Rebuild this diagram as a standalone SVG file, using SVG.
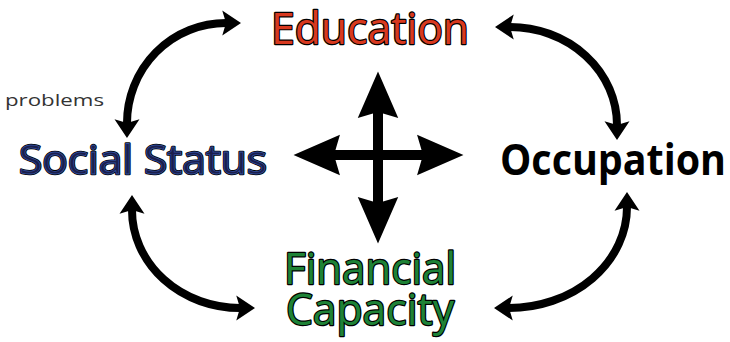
<svg xmlns="http://www.w3.org/2000/svg" width="730" height="342" viewBox="0 0 730 342">
  <style>
    .label { font-family: "Open Sans", "Noto Sans", "Liberation Sans", sans-serif; text-anchor: middle; }
    .outlined { stroke: #000; stroke-width: 2.4; stroke-linejoin: round; paint-order: stroke; }
    .arc { fill: none; stroke: #000; stroke-width: 8; }
    .shaft { fill: none; stroke: #000; stroke-width: 10; }
  </style>
  <defs>
    <marker id="headSmall" markerUnits="userSpaceOnUse" markerWidth="30" markerHeight="30" viewBox="-4 -12 20 24" refX="0" refY="0" orient="auto-start-reverse" overflow="visible">
      <path d="M-3,-10 L12,0 L-3,10 L0,0 Z" fill="#000"/>
    </marker>
    <marker id="headLarge" markerUnits="userSpaceOnUse" markerWidth="50" markerHeight="50" viewBox="-6 -18 42 36" refX="0" refY="0" orient="auto-start-reverse" overflow="visible">
      <path d="M-5,-17 L34,0 L-5,17 L0,0 Z" fill="#000"/>
    </marker>
  </defs>
  <rect width="730" height="342" fill="#fff"/>

  <g id="connectors">
    <!-- curved two-way arrows around the ring -->
    <path class="arc" d="M127,123 A99 100 0 0 1 226,23" marker-start="url(#headSmall)" marker-end="url(#headSmall)"/>
    <path class="arc" d="M510,27 A107 98 0 0 1 617,125" marker-start="url(#headSmall)" marker-end="url(#headSmall)"/>
    <path class="arc" d="M132,210 A108 98 0 0 0 240,308" marker-start="url(#headSmall)" marker-end="url(#headSmall)"/>
    <path class="arc" d="M627,207 A118 101 0 0 1 509,308" marker-start="url(#headSmall)" marker-end="url(#headSmall)"/>
    <!-- central four-way cross -->
    <line class="shaft" x1="378" y1="112" x2="378" y2="203" marker-start="url(#headLarge)" marker-end="url(#headLarge)"/>
    <line class="shaft" x1="334" y1="155" x2="423" y2="155" marker-start="url(#headLarge)" marker-end="url(#headLarge)"/>
  </g>

  <g id="education">
    <text class="label outlined" x="370" y="44" font-size="43" fill="#d8391f" textLength="198" lengthAdjust="spacingAndGlyphs">Education</text>
  </g>

  <g id="social-status">
    <text class="label outlined" x="143" y="174" font-size="40" fill="#1b1f4c" textLength="248" lengthAdjust="spacingAndGlyphs">Social Status</text>
    <text class="label" x="143" y="174" font-size="40" fill="#1b1f4c" stroke="#2f4c9c" stroke-width="0.8" textLength="248" lengthAdjust="spacingAndGlyphs">Social Status</text>
  </g>

  <g id="occupation">
    <text class="label" x="613" y="175" font-size="43" font-weight="bold" fill="#000" textLength="226" lengthAdjust="spacingAndGlyphs">Occupation</text>
  </g>

  <g id="financial-capacity">
    <text class="label outlined" x="370" y="284" font-size="43" fill="#1e8236" textLength="172" lengthAdjust="spacingAndGlyphs">Financial</text>
    <text class="label outlined" x="370" y="325" font-size="43" fill="#1e8236" textLength="168" lengthAdjust="spacingAndGlyphs">Capacity</text>
  </g>

  <g id="problems">
    <text x="5" y="106" font-family="'Open Sans', 'Noto Sans', 'Liberation Sans', sans-serif" font-size="17" fill="#333" textLength="99" lengthAdjust="spacingAndGlyphs">problems</text>
  </g>
</svg>
